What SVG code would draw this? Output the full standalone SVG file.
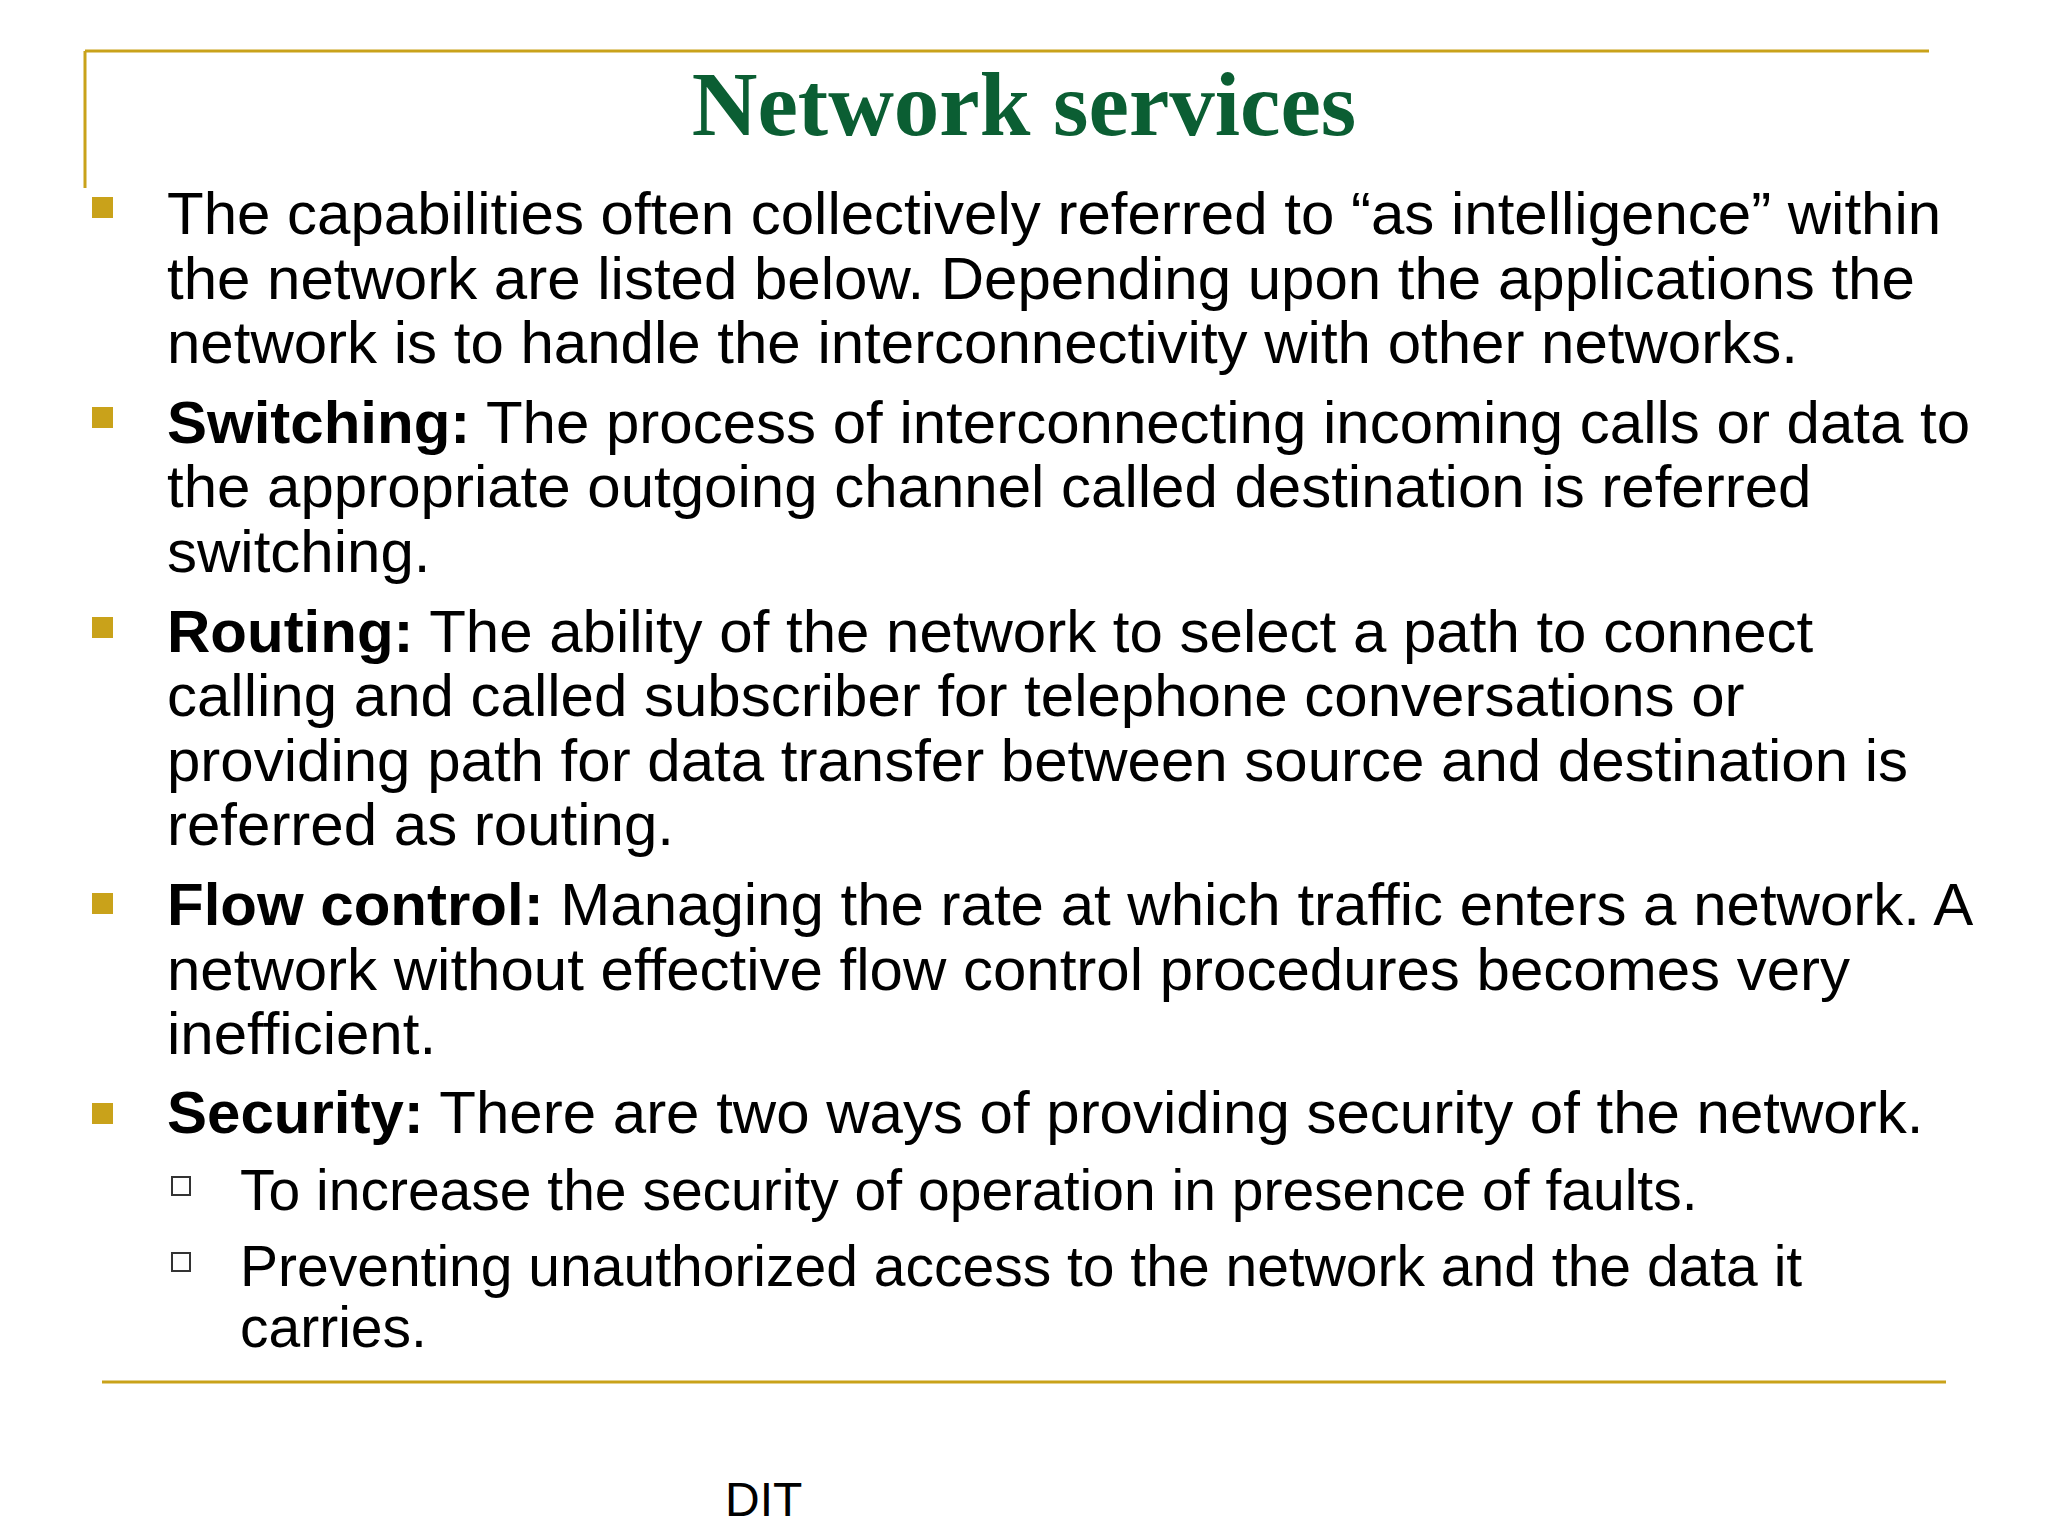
<svg xmlns="http://www.w3.org/2000/svg" width="2048" height="1536" viewBox="0 0 2048 1536">
<style>
.t{font-family:"Liberation Sans",Arial,sans-serif;font-size:60px;fill:#000}
.s{font-family:"Liberation Sans",Arial,sans-serif;font-size:57px;fill:#000}
.b{font-weight:bold}
.g{fill:#c9a21a}
.h{fill:#fff;stroke:#333;stroke-width:2}
.ln{stroke:#c9a21a;stroke-width:3;fill:none}
</style>
<rect width="2048" height="1536" fill="#fff"/>
<g id="frame">
<path class="ln" d="M85 51 H1929 M85 51 V188 M102 1382 H1946"/>
</g>
<g id="title"><text x="1024" y="135" text-anchor="middle" font-family="Liberation Serif,serif" font-weight="bold" font-size="91" fill="#0b5e33">Network services</text></g>
<g id="bullets">
<rect class="g" x="92" y="197" width="21" height="21"/>
<rect class="g" x="92" y="407" width="21" height="21"/>
<rect class="g" x="92" y="617" width="21" height="21"/>
<rect class="g" x="92" y="893" width="21" height="21"/>
<rect class="g" x="92" y="1103" width="21" height="21"/>
<rect class="h" x="172" y="1177" width="18" height="18"/>
<rect class="h" x="172" y="1253" width="18" height="18"/>
</g>
<g id="body">
<text class="t" x="167" y="234">The capabilities often collectively referred to “as intelligence” within</text>
<text class="t" x="167" y="299">the network are listed below. Depending upon the applications the</text>
<text class="t" x="167" y="363">network is to handle the interconnectivity with other networks.</text>
<text class="t" x="167" y="443"><tspan class="b">Switching:</tspan> The process of interconnecting incoming calls or data to</text>
<text class="t" x="167" y="507">the appropriate outgoing channel called destination is referred</text>
<text class="t" x="167" y="572">switching.</text>
<text class="t" x="167" y="652"><tspan class="b">Routing:</tspan> The ability of the network to select a path to connect</text>
<text class="t" x="167" y="716">calling and called subscriber for telephone conversations or</text>
<text class="t" x="167" y="781">providing path for data transfer between source and destination is</text>
<text class="t" x="167" y="845">referred as routing.</text>
<text class="t" x="167" y="925"><tspan class="b">Flow control:</tspan> Managing the rate at which traffic enters a network. A</text>
<text class="t" x="167" y="990">network without effective flow control procedures becomes very</text>
<text class="t" x="167" y="1054">inefficient.</text>
<text class="t" x="167" y="1133"><tspan class="b">Security:</tspan> There are two ways of providing security of the network.</text>
<text class="s" x="240" y="1210">To increase the security of operation in presence of faults.</text>
<text class="s" x="240" y="1286">Preventing unauthorized access to the network and the data it</text>
<text class="s" x="240" y="1347">carries.</text>
</g>
<g id="footer"><text x="725" y="1516" font-family="Liberation Sans,Arial,sans-serif" font-size="48">DIT</text></g>
</svg>
